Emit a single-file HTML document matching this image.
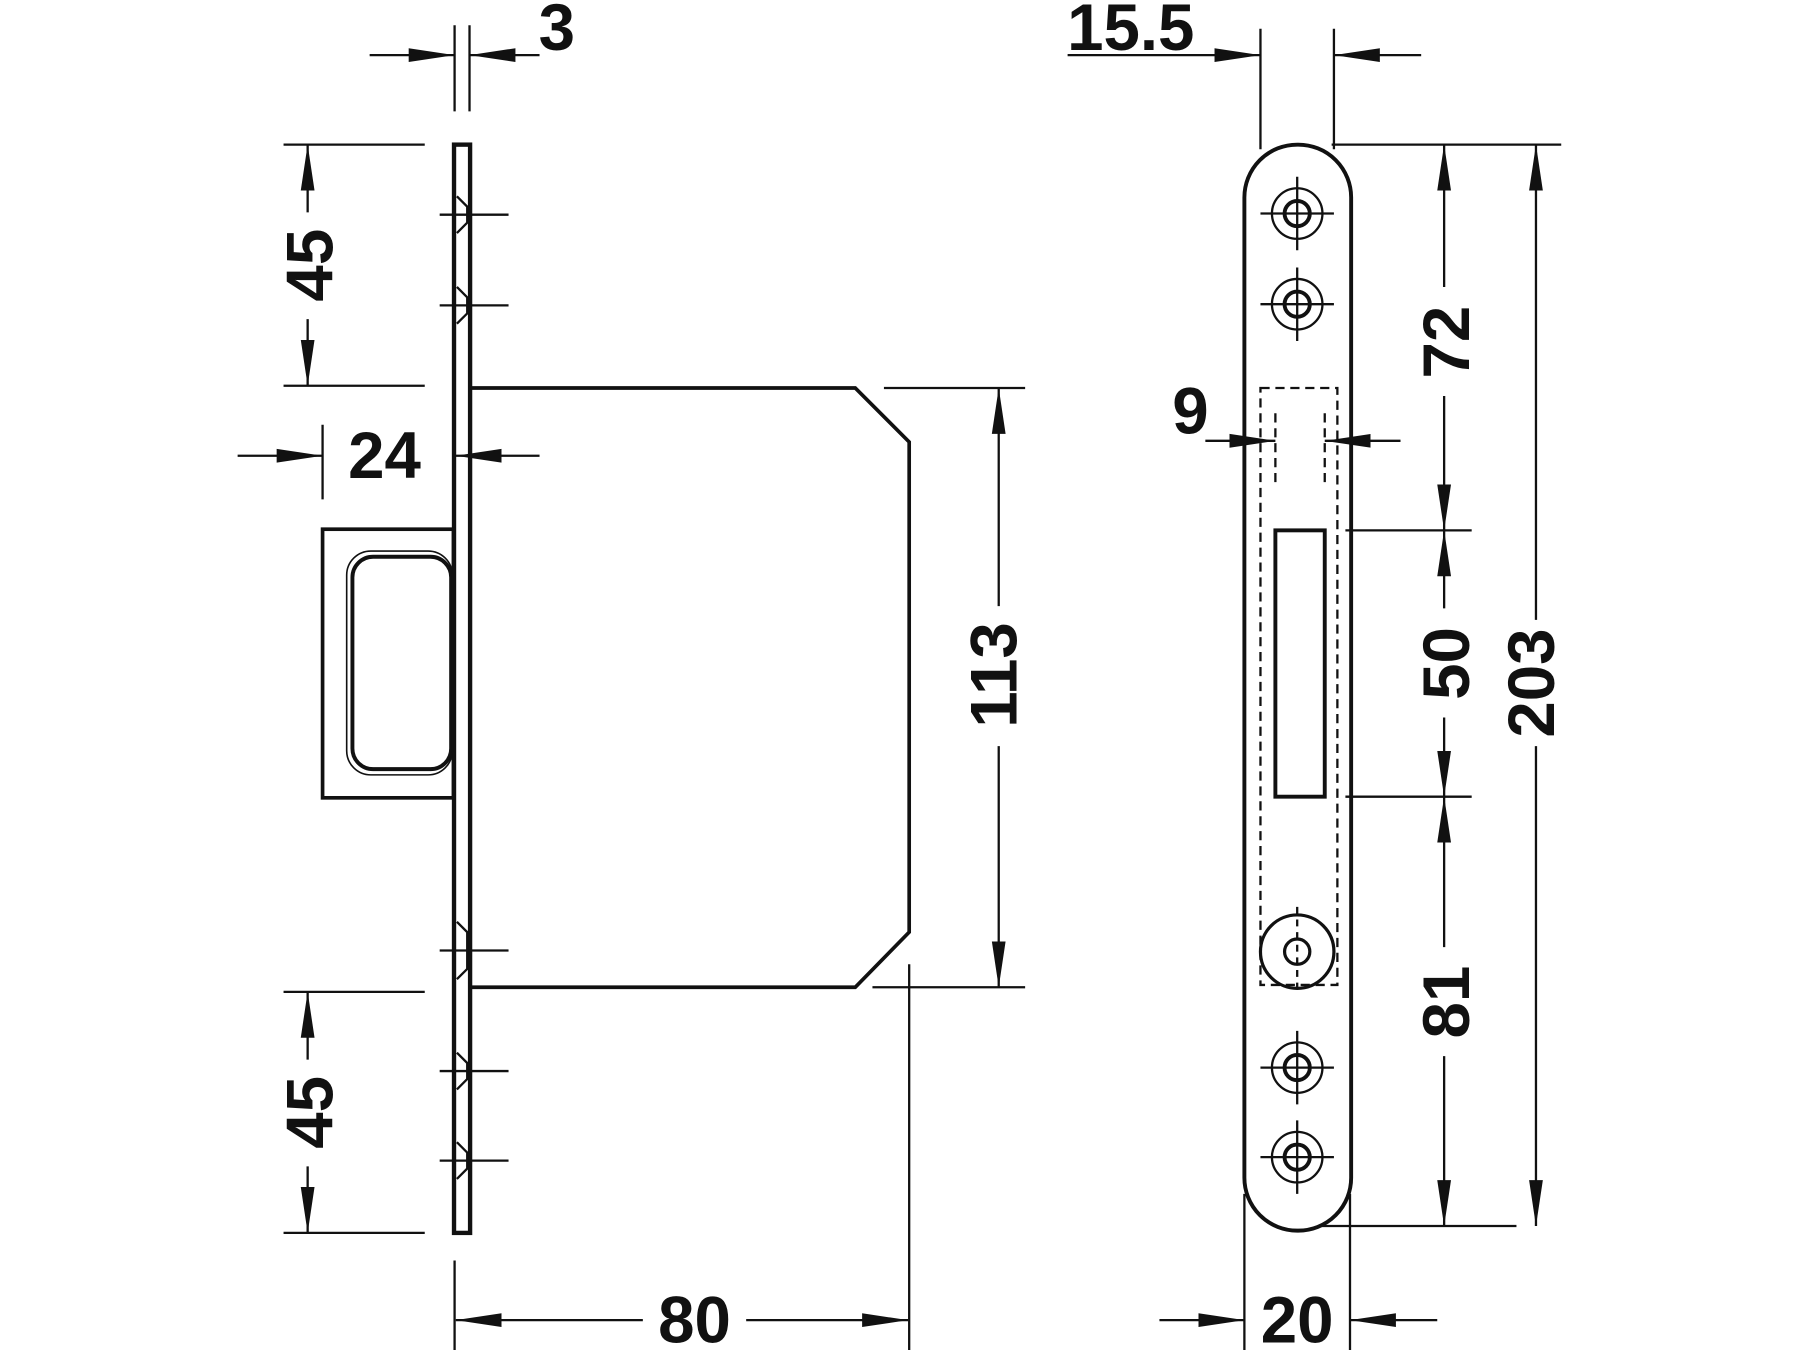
<!DOCTYPE html>
<html><head><style>html,body{margin:0;padding:0;background:#fff}svg{display:block}</style></head>
<body>
<svg width="1800" height="1350" viewBox="0 0 1568 1176" xmlns="http://www.w3.org/2000/svg">
<defs>
<marker id="a" viewBox="0 0 40 12" refX="40" refY="6" markerWidth="40" markerHeight="13" markerUnits="userSpaceOnUse" orient="auto-start-reverse">
<path d="M0,0 L40,6 L0,12 z" fill="#111"/></marker>
</defs>
<g fill="none" stroke="#111" stroke-width="2">
<!-- LEFT VIEW -->
<rect x="395.5" y="126" width="14" height="948" stroke-width="3.8"/>
<polyline points="410,338 745,338 792,385 792,812 745,860 410,860" stroke-width="3.2"/>
<rect x="281" y="461" width="114" height="234" stroke-width="3.2"/>
<rect x="307" y="485" width="86" height="185" rx="18" stroke-width="3.4"/>
<rect x="302" y="480" width="92" height="195" rx="21" stroke-width="1.4"/>
<g stroke-width="2">
<line x1="383" y1="187" x2="443" y2="187"/><line x1="383" y1="266" x2="443" y2="266"/>
<line x1="383" y1="828" x2="443" y2="828"/><line x1="383" y1="933" x2="443" y2="933"/>
<line x1="383" y1="1011" x2="443" y2="1011"/>
</g>
<g stroke-width="2">
<path d="M398,171 L407,180 L407,194 L398,203"/><path d="M398,250 L407,259 L407,273 L398,282"/>
<path d="M398,803 L407,812 L407,844 L398,853"/><path d="M398,917 L407,926 L407,940 L398,949"/>
<path d="M398,995 L407,1004 L407,1018 L398,1027"/>
</g>
<line x1="396" y1="22" x2="396" y2="97"/><line x1="409" y1="22" x2="409" y2="97"/>
<line x1="322" y1="48" x2="396" y2="48" marker-end="url(#a)"/>
<line x1="470" y1="48" x2="409" y2="48" marker-end="url(#a)"/>
<line x1="247" y1="126" x2="370" y2="126"/><line x1="247" y1="336" x2="370" y2="336"/>
<line x1="268" y1="185" x2="268" y2="126" marker-end="url(#a)"/>
<line x1="268" y1="278" x2="268" y2="336" marker-end="url(#a)"/>
<line x1="281" y1="370" x2="281" y2="435"/>
<line x1="207" y1="397" x2="281" y2="397" marker-end="url(#a)"/>
<line x1="470" y1="397" x2="397" y2="397" marker-end="url(#a)"/>
<line x1="770" y1="338" x2="893" y2="338"/><line x1="760" y1="860" x2="893" y2="860"/>
<line x1="870" y1="528" x2="870" y2="338" marker-end="url(#a)"/>
<line x1="870" y1="650" x2="870" y2="860" marker-end="url(#a)"/>
<line x1="247" y1="864" x2="370" y2="864"/><line x1="247" y1="1074" x2="370" y2="1074"/>
<line x1="268" y1="923" x2="268" y2="864" marker-end="url(#a)"/>
<line x1="268" y1="1016" x2="268" y2="1074" marker-end="url(#a)"/>
<line x1="396" y1="1098" x2="396" y2="1176"/><line x1="792" y1="840" x2="792" y2="1176"/>
<line x1="560" y1="1150" x2="397" y2="1150" marker-end="url(#a)"/>
<line x1="650" y1="1150" x2="791" y2="1150" marker-end="url(#a)"/>

<!-- RIGHT VIEW -->
<rect x="1084" y="126" width="93" height="946" rx="46" stroke-width="3.4"/>
<rect x="1098" y="338" width="67" height="520" stroke-dasharray="8,5"/>
<rect x="1111" y="462" width="43" height="232" stroke-width="3.4"/>
<line x1="1111" y1="360" x2="1111" y2="420" stroke-dasharray="8,5"/>
<line x1="1154" y1="360" x2="1154" y2="420" stroke-dasharray="8,5"/>
<circle cx="1130" cy="829" r="32" stroke-width="2.8"/>
<circle cx="1130" cy="829" r="11" stroke-width="2.8"/>
<line x1="1130" y1="790" x2="1130" y2="860" stroke-dasharray="6,5"/>
<g>
<g transform="translate(1130,186)"><circle r="22"/><circle r="11" stroke-width="3.4"/><line x1="-32" x2="32"/><line y1="-32" y2="32"/></g>
<g transform="translate(1130,265)"><circle r="22"/><circle r="11" stroke-width="3.4"/><line x1="-32" x2="32"/><line y1="-32" y2="32"/></g>
<g transform="translate(1130,930)"><circle r="22"/><circle r="11" stroke-width="3.4"/><line x1="-32" x2="32"/><line y1="-32" y2="32"/></g>
<g transform="translate(1130,1008)"><circle r="22"/><circle r="11" stroke-width="3.4"/><line x1="-32" x2="32"/><line y1="-32" y2="32"/></g>
</g>
<line x1="1098" y1="25" x2="1098" y2="130"/><line x1="1162" y1="25" x2="1162" y2="130"/>
<line x1="930" y1="48" x2="1098" y2="48" marker-end="url(#a)"/>
<line x1="1238" y1="48" x2="1162" y2="48" marker-end="url(#a)"/>
<line x1="1050" y1="384" x2="1111" y2="384" marker-end="url(#a)"/>
<line x1="1220" y1="384" x2="1154" y2="384" marker-end="url(#a)"/>
<line x1="1160" y1="126" x2="1360" y2="126"/>
<line x1="1172" y1="462" x2="1282" y2="462"/>
<line x1="1172" y1="694" x2="1282" y2="694"/>
<line x1="1148" y1="1068" x2="1321" y2="1068"/>
<line x1="1258" y1="250" x2="1258" y2="126" marker-end="url(#a)"/>
<line x1="1258" y1="345" x2="1258" y2="462" marker-end="url(#a)"/>
<line x1="1258" y1="530" x2="1258" y2="462" marker-end="url(#a)"/>
<line x1="1258" y1="625" x2="1258" y2="694" marker-end="url(#a)"/>
<line x1="1258" y1="825" x2="1258" y2="694" marker-end="url(#a)"/>
<line x1="1258" y1="920" x2="1258" y2="1068" marker-end="url(#a)"/>
<line x1="1338" y1="540" x2="1338" y2="126" marker-end="url(#a)"/>
<line x1="1338" y1="650" x2="1338" y2="1068" marker-end="url(#a)"/>
<line x1="1084" y1="1040" x2="1084" y2="1176"/><line x1="1176" y1="1040" x2="1176" y2="1176"/>
<line x1="1010" y1="1150" x2="1084" y2="1150" marker-end="url(#a)"/>
<line x1="1252" y1="1150" x2="1176" y2="1150" marker-end="url(#a)"/>
</g>
<g font-family="Liberation Sans, sans-serif" font-weight="bold" font-size="57" fill="#111" text-anchor="middle" dominant-baseline="central">
<text x="485" y="24">3</text>
<text x="335" y="397">24</text>
<text x="605" y="1150">80</text>
<text x="985" y="24">15.5</text>
<text x="1037" y="358">9</text>
<text x="1130" y="1150">20</text>
<text transform="translate(270,231) rotate(-90)">45</text>
<text transform="translate(270,969) rotate(-90)">45</text>
<text transform="translate(866,588) rotate(-90)">113</text>
<text transform="translate(1260,298) rotate(-90)">72</text>
<text transform="translate(1260,578) rotate(-90)">50</text>
<text transform="translate(1260,873) rotate(-90)">81</text>
<text transform="translate(1334,595) rotate(-90)">203</text>
</g>
</svg>
</body></html>
